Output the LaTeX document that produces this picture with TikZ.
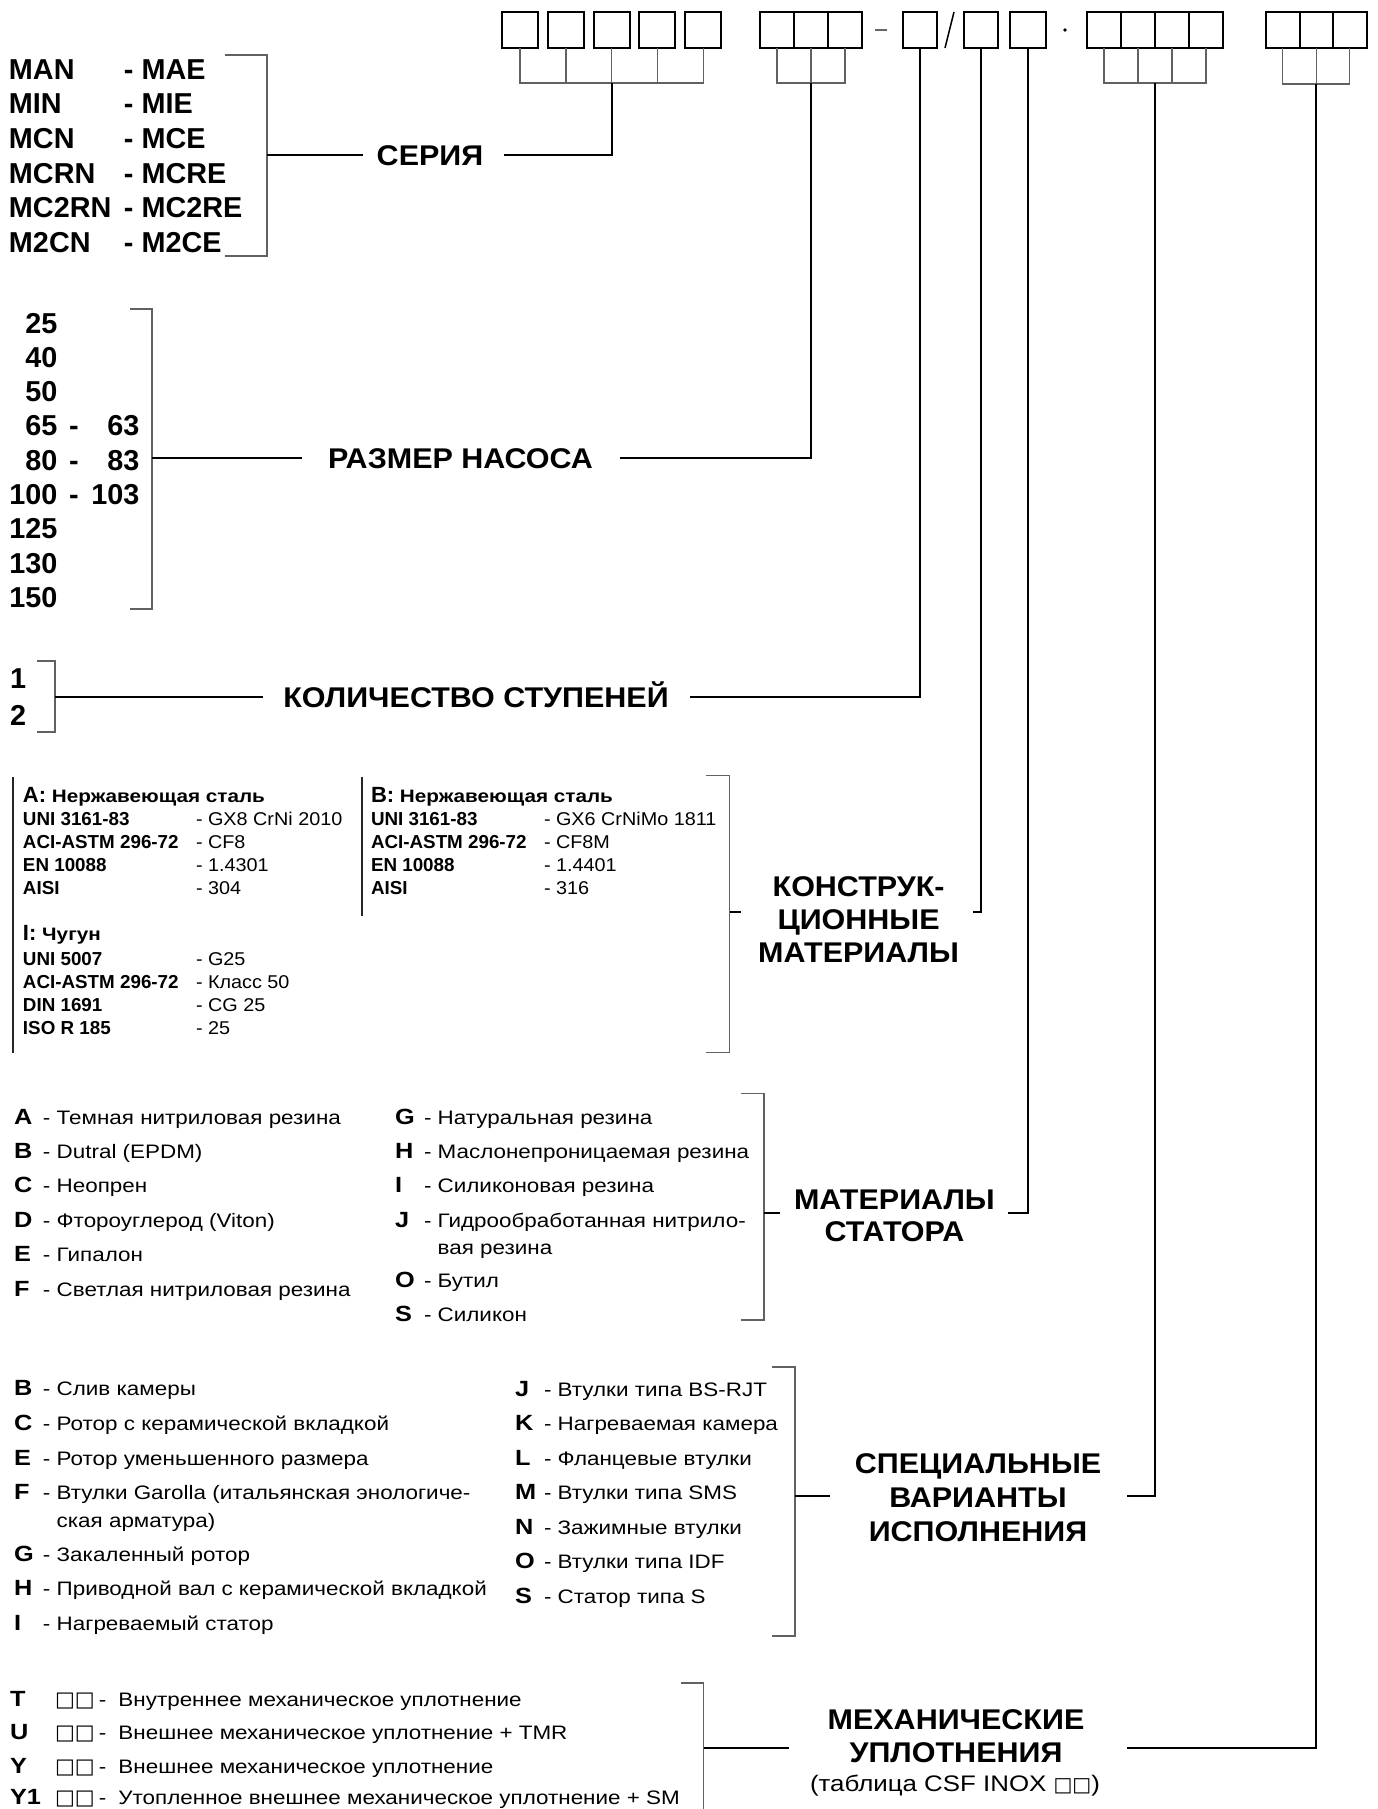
\documentclass[tikz,border=0pt]{standalone}
\usepackage{fontspec}
\setmainfont{Liberation Sans}
\newfontfamily\widefont[FakeStretch=1.15]{Liberation Sans}
\newfontfamily\titfam[FakeStretch=1.07]{Liberation Sans}
\newfontfamily\hdrfam[FakeStretch=1.15]{Liberation Sans}
\newfontfamily\valfam[FakeStretch=1.07]{Liberation Sans}
\newfontfamily\sqfam{DejaVu Sans}
\newcommand\serfont{\fontsize{28.8}{33}\selectfont\bfseries}
\newcommand\titfont{\titfam\fontsize{28.5}{33}\selectfont\bfseries}
\newcommand\matfont{\fontsize{18.8}{23}\selectfont}
\newcommand\valfont{\valfam\fontsize{18.5}{23}\selectfont}
\newcommand\hdrfont{\hdrfam\fontsize{18}{22}\selectfont\bfseries}
\newcommand\itemfont{\widefont\fontsize{19.5}{27.5}\selectfont}
\newcommand\sqfont{\sqfam\fontsize{21}{27.5}\selectfont}
\newcommand\subfont{\widefont\fontsize{22.5}{27.5}\selectfont}
\newcommand\letterfont{\fontsize{22}{26}\selectfont\bfseries}
\newcommand\lbox[1]{\makebox[29pt][l]{\letterfont #1}}
\newcommand\sealrow[2]{\makebox[45pt][l]{\letterfont #1}\makebox[44pt][l]{\sqfont □□}-\hspace{12pt}#2}
\begin{document}
\begin{tikzpicture}[x=1pt,y=-1pt,
  cell/.style={draw=black,line width=2pt,minimum width=#1,minimum height=36pt,inner sep=0pt,outer sep=0pt},
  cell/.default=34pt,
  brk/.style={draw=black!62,line width=1.6pt},
  link/.style={draw=black!62,line width=1.4pt},
  main/.style={draw=black,line width=2pt},
  rule/.style={draw=black!85,line width=2pt},
  title/.style={font=\titfont,inner sep=0pt,outer sep=0pt,align=center},
  txt/.style={inner sep=0pt,outer sep=0pt,anchor=base west}]
\useasboundingbox (0,0) rectangle (1378,1809);

% ---------- code boxes ----------
\node[cell=36pt] (a1) at (520,30) {};
\node[cell=36pt] (a2) at (565.8,30) {};
\node[cell=36pt] (a3) at (611.6,30) {};
\node[cell=36pt] (a4) at (657.4,30) {};
\node[cell=36pt] (a5) at (703.2,30) {};
\node[cell] (b1) at (777,30) {};
\node[cell] (b2) at (811,30) {};
\node[cell] (b3) at (845,30) {};
\draw[line width=2pt,black!60] (875,30) -- (887,30);
\node[cell] (c1) at (920,30) {};
\draw[line width=1.5pt] (945,48) -- (954,12);
\node[cell] (c2) at (981,30) {};
\node[cell=36pt] (c3) at (1028,30) {};
\fill (1065,30) circle (1.8);
\node[cell] (d1) at (1104,30) {};
\node[cell] (d2) at (1138,30) {};
\node[cell] (d3) at (1172,30) {};
\node[cell] (d4) at (1206,30) {};
\node[cell=33.5pt] (e1) at (1282.75,30) {};
\node[cell=33.5pt] (e2) at (1316.25,30) {};
\node[cell=33.5pt] (e3) at (1349.75,30) {};

\coordinate (ga) at (611.6,83);
\coordinate (gb) at (811,83);
\coordinate (gd) at (1155,83);
\coordinate (ge) at (1316.25,84);
\draw[link] (a1.south) |- (a5.south |- ga) -- (a5.south);
\foreach \n in {a2,a3,a4} \draw[link] (\n.south) -- (\n.south |- ga);
\draw[link] (b1.south) |- (b3.south |- gb) -- (b3.south);
\draw[link] (b2.south) -- (b2.south |- gb);
\draw[link] (d1.south) |- (d4.south |- gd) -- (d4.south);
\foreach \n in {d2,d3} \draw[link] (\n.south) -- (\n.south |- gd);
\draw[link] (e1.south) |- (e3.south |- ge) -- (e3.south);
\draw[link] (e2.south) -- (e2.south |- ge);

% ---------- 1: series ----------
\foreach \a/\b [count=\i from 0] in {MAN/MAE,MIN/MIE,MCN/MCE,MCRN/MCRE,MC2RN/MC2RE,M2CN/M2CE}
  \node[txt,font=\serfont] (ser\i) at (9,79.3+34.6*\i) {\makebox[115pt][l]{\a}- \b};
\draw[brk] (225,55) -| (267,256) -- (225,256);
\coordinate (s1m) at (267,155);
\node[title,anchor=base] (serija) at (430,165.5) {СЕРИЯ};
\coordinate (serL) at (363,155);
\coordinate (serR) at (504,155);
\draw[main] (s1m) -- (serL);
\draw[main] (serR) -| (ga);

% ---------- 2: size ----------
\foreach \a [count=\i from 0] in {25,40,50,65,80,100,125,130,150}
  \node[txt,anchor=base east,font=\serfont] (nl\i) at (57.5,333+34.3*\i) {\a};
\node[txt,font=\serfont] (nd3) at (69,435.9) {-};
\node[txt,font=\serfont] (nd4) at (69,470.2) {-};
\node[txt,font=\serfont] (nd5) at (69,504.5) {-};
\node[txt,anchor=base east,font=\serfont] (nr3) at (139.5,435.9) {63};
\node[txt,anchor=base east,font=\serfont] (nr4) at (139.5,470.2) {83};
\node[txt,anchor=base east,font=\serfont] (nr5) at (139.5,504.5) {103};
\draw[brk] (130,309) -| (152,609) -- (130,609);
\coordinate (s2m) at (152,458);
\node[title,anchor=base] (razmer) at (460.5,468.3) {РАЗМЕР НАСОСА};
\coordinate (razL) at (302,458);
\coordinate (razR) at (620,458);
\draw[main] (s2m) -- (razL);
\draw[main] (razR) -| (gb);

% ---------- 3: stages ----------
\node[txt,font=\serfont] (st1) at (10,688.5) {1};
\node[txt,font=\serfont] (st2) at (10,725) {2};
\draw[brk] (37,661) -| (55,732) -- (37,732);
\coordinate (s3m) at (55,697);
\node[title,anchor=base] (kol) at (476,707) {КОЛИЧЕСТВО СТУПЕНЕЙ};
\coordinate (kolL) at (263,697);
\coordinate (kolR) at (690,697);
\draw[main] (s3m) -- (kolL);
\draw[main] (kolR) -| (c1.south);

% ---------- 4: construction materials ----------
\draw[rule] (12.7,777) -- (12.7,1053);
\draw[rule] (361.7,777) -- (361.7,916);
\node[txt] (ah) at (23,802) {{\fontsize{22}{26}\selectfont\bfseries A:}{\hdrfont\ Нержавеющая сталь}};
\foreach \l/\v [count=\i] in {UNI 3161-83/GX8 CrNi 2010,ACI-ASTM 296-72/CF8,EN 10088/1.4301,AISI/304}{
  \node[txt,font=\matfont] (al\i) at (23,802.5+23*\i) {\textbf{\l}};
  \node[txt,font=\valfont] (av\i) at (196,802.5+23*\i) {- \v};}
\node[txt] (bh) at (371,802) {{\fontsize{22}{26}\selectfont\bfseries B:}{\hdrfont\ Нержавеющая сталь}};
\foreach \l/\v [count=\i] in {UNI 3161-83/GX6 CrNiMo 1811,ACI-ASTM 296-72/CF8M,EN 10088/1.4401,AISI/316}{
  \node[txt,font=\matfont] (bl\i) at (371,802.5+23*\i) {\textbf{\l}};
  \node[txt,font=\valfont] (bv\i) at (544,802.5+23*\i) {- \v};}
\node[txt] (ih) at (23,940) {{\fontsize{22}{26}\selectfont\bfseries I:}{\hdrfont\ Чугун}};
\foreach \l/\v [count=\i] in {UNI 5007/G25,ACI-ASTM 296-72/Класс 50,DIN 1691/CG 25,ISO R 185/25}{
  \node[txt,font=\matfont] (il\i) at (23,942+23*\i) {\textbf{\l}};
  \node[txt,font=\valfont] (iv\i) at (196,942+23*\i) {- \v};}
\draw[brk] (706,775.5) -| (729.5,1052.5) -- (706,1052.5);
\coordinate (s4m) at (729.5,912);
\coordinate (s4s) at (741,912);
\draw[main] (s4m) -- (s4s);
\node[title] (konstr) at (858.6,920) {КОНСТРУК-\\ЦИОННЫЕ\\МАТЕРИАЛЫ};
\coordinate (konR) at (973,912);
\draw[main] (konR) -| (c2.south);

% ---------- 5: stator materials ----------
\foreach \l/\t [count=\i from 0] in {A/Темная нитриловая резина,B/Dutral (EPDM),C/Неопрен,D/Фтороуглерод (Viton),E/Гипалон,F/Светлая нитриловая резина}
  \node[txt,font=\itemfont] (sl\i) at (14,1124+34.4*\i) {\lbox{\l}- \t};
\node[txt,font=\itemfont] (sr0) at (395,1124) {\lbox{G}- Натуральная резина};
\node[txt,font=\itemfont] (sr1) at (395,1158.4) {\lbox{H}- Маслонепроницаемая резина};
\node[txt,font=\itemfont] (sr2) at (395,1192.8) {\lbox{I}- Силиконовая резина};
\node[txt,font=\itemfont] (sr3) at (395,1227.2) {\lbox{J}- Гидрообработанная нитрило-};
\node[txt,font=\itemfont] (sr3b) at (395,1254) {\phantom{\lbox{J}- }вая резина};
\node[txt,font=\itemfont] (sr4) at (395,1287) {\lbox{O}- Бутил};
\node[txt,font=\itemfont] (sr5) at (395,1321) {\lbox{S}- Силикон};
\draw[brk] (741,1093.5) -| (764,1320) -- (741,1320);
\coordinate (s5m) at (764,1213);
\coordinate (s5s) at (780,1213);
\draw[main] (s5m) -- (s5s);
\node[title,font=\titfam\fontsize{28.5}{32}\selectfont\bfseries] (stator) at (894.4,1216) {МАТЕРИАЛЫ\\СТАТОРА};
\coordinate (matR) at (1007.5,1213);
\draw[main] (matR) -| (c3.south);

% ---------- 6: special versions ----------
\node[txt,font=\itemfont] (vl0) at (14,1395) {\lbox{B}- Слив камеры};
\node[txt,font=\itemfont] (vl1) at (14,1430) {\lbox{C}- Ротор с керамической вкладкой};
\node[txt,font=\itemfont] (vl2) at (14,1465) {\lbox{E}- Ротор уменьшенного размера};
\node[txt,font=\itemfont] (vl3) at (14,1499.5) {\lbox{F}- Втулки Garolla (итальянская энологиче-};
\node[txt,font=\itemfont] (vl3b) at (14,1527) {\phantom{\lbox{F}- }ская арматура)};
\node[txt,font=\itemfont] (vl4) at (14,1561) {\lbox{G}- Закаленный ротор};
\node[txt,font=\itemfont] (vl5) at (14,1595) {\lbox{H}- Приводной вал с керамической вкладкой};
\node[txt,font=\itemfont] (vl6) at (14,1630) {\lbox{I}- Нагреваемый статор};
\foreach \l/\t [count=\i from 0] in {J/Втулки типа BS-RJT,K/Нагреваемая камера,L/Фланцевые втулки,M/Втулки типа SMS,N/Зажимные втулки,O/Втулки типа IDF,S/Статор типа S}
  \node[txt,font=\itemfont] (vr\i) at (515,1396+34.5*\i) {\lbox{\l}- \t};
\draw[brk] (771.5,1367) -| (795,1636) -- (771.5,1636);
\coordinate (s6m) at (795,1496);
\coordinate (s6s) at (830,1496);
\draw[main] (s6m) -- (s6s);
\node[title,font=\titfam\fontsize{28.5}{34}\selectfont\bfseries] (spec) at (978,1498) {СПЕЦИАЛЬНЫЕ\\ВАРИАНТЫ\\ИСПОЛНЕНИЯ};
\coordinate (spR) at (1127,1496);
\draw[main] (spR) -| (gd);

% ---------- 7: mechanical seals ----------
\node[txt,font=\itemfont] (ml0) at (10,1706) {\sealrow{T}{Внутреннее механическое уплотнение}};
\node[txt,font=\itemfont] (ml1) at (10,1739.7) {\sealrow{U}{Внешнее механическое уплотнение + TMR}};
\node[txt,font=\itemfont] (ml2) at (10,1773.4) {\sealrow{Y}{Внешнее механическое уплотнение}};
\node[txt,font=\itemfont] (ml3) at (10,1804) {\sealrow{Y1}{Утопленное внешнее механическое уплотнение + SM}};
\draw[brk] (681,1683) -| (703.5,1815);
\coordinate (s7m) at (703.5,1748);
\coordinate (s7s) at (789,1748);
\draw[main] (s7m) -- (s7s);
\node[title] (mech) at (956,1736) {МЕХАНИЧЕСКИЕ\\УПЛОТНЕНИЯ};
\node[inner sep=0pt,font=\subfont] (csf) at (955,1786) {(таблица CSF INOX {\sqfam\fontsize{20}{24}\selectfont □□})};
\coordinate (mehR) at (1127,1748);
\draw[main] (mehR) -| (ge);
\end{tikzpicture}
\end{document}
